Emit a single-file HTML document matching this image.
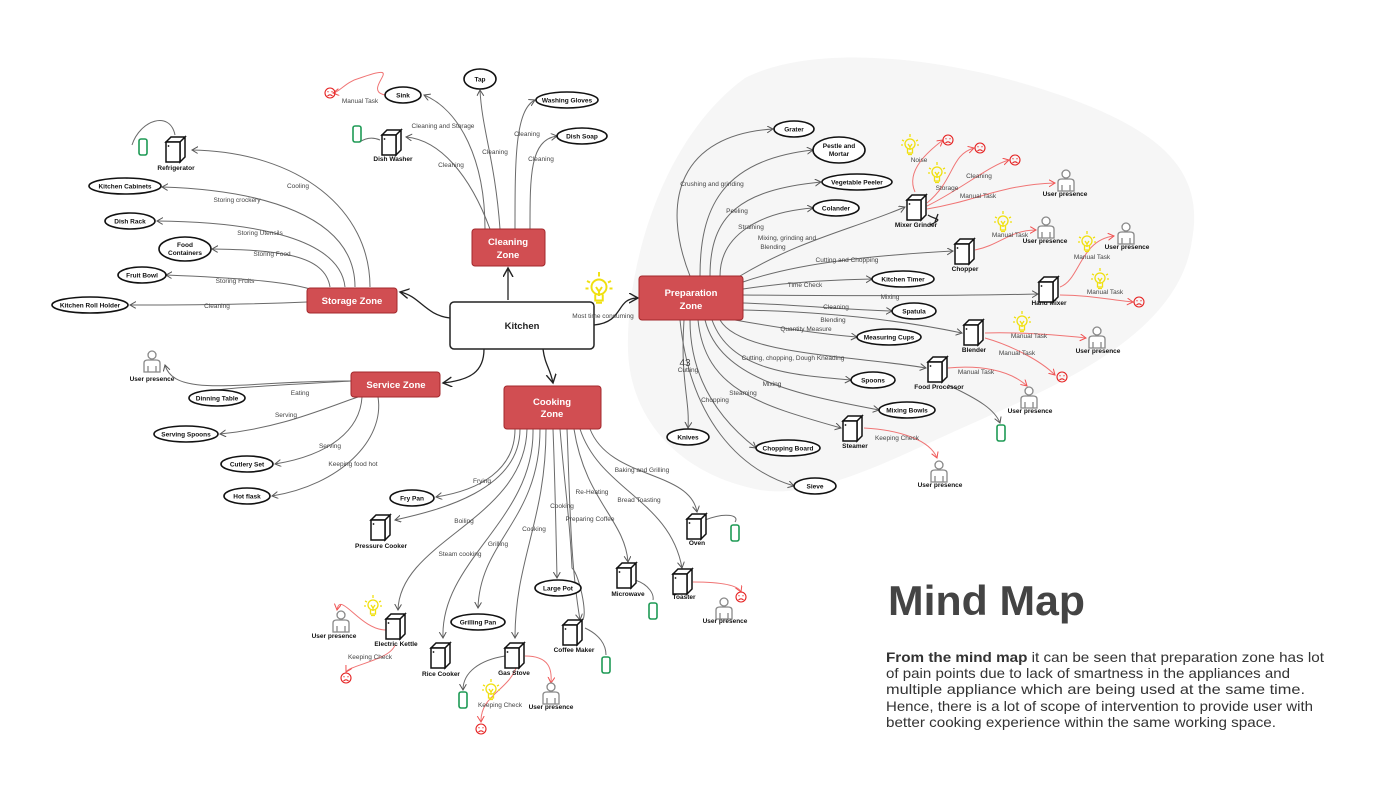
<!DOCTYPE html>
<html><head><meta charset="utf-8"><style>
html,body{margin:0;padding:0;background:#fff;width:1400px;height:788px;overflow:hidden}
svg{display:block}
text{font-family:"Liberation Sans",Arial,sans-serif}
.l{font-size:6.5px;fill:#444}
.n{font-size:6.5px;font-weight:bold;fill:#111}
.z{font-size:9.5px;font-weight:bold;fill:#fff}
.c path{fill:none;stroke:#6a6a6a;stroke-width:1}
.r path{fill:none;stroke:#f07575;stroke-width:1}
.e{fill:#fff;stroke:#111;stroke-width:1.6}
</style></head><body>
<svg width="1400" height="788" viewBox="0 0 1400 788" xmlns="http://www.w3.org/2000/svg">
<defs>
<marker id="a" markerWidth="8" markerHeight="8" refX="6" refY="3.5" orient="auto" markerUnits="userSpaceOnUse"><path d="M0,0 L6,3.5 L0,7" fill="none" stroke="#555" stroke-width="1"/></marker>
<marker id="ar" markerWidth="8" markerHeight="8" refX="6" refY="3.5" orient="auto" markerUnits="userSpaceOnUse"><path d="M0,0 L6,3.5 L0,7" fill="none" stroke="#f05050" stroke-width="1"/></marker>
<marker id="ab" markerWidth="12" markerHeight="12" refX="9" refY="5" orient="auto" markerUnits="userSpaceOnUse"><path d="M0,0 L9,5 L0,10" fill="none" stroke="#222" stroke-width="1.4"/></marker>
<g id="app"><path d="M-10,-8 L-5,-13 L9,-13 L4,-8 Z M4,-8 L9,-13 L9,7 L4,12 Z" fill="#fff" stroke="#111" stroke-width="1.5"/><rect x="-10" y="-8" width="14" height="20" fill="#fff" stroke="#111" stroke-width="1.5"/><circle cx="-7.5" cy="-4" r="0.9" fill="#111"/></g>
<g id="per" fill="#fff" stroke="#888" stroke-width="1.3"><circle cx="0" cy="-8" r="4"/><path d="M-8,9 V0 Q-8,-3 -4,-3 H4 Q8,-3 8,0 V9 Z M-4,9 V3 M4,9 V3"/></g>
<g id="ph"><rect x="-4" y="-8" width="8" height="16" rx="2" fill="#fff" stroke="#1e9a55" stroke-width="1.6"/></g>
<g id="sad" fill="none" stroke="#e52020" stroke-width="1.1"><circle r="5"/><path d="M-2.5,3 Q0,0.5 2.5,3 M-2.5,-1.5 L-1.5,-1 M2.5,-1.5 L1.5,-1"/></g>
<g id="bulb" fill="none" stroke="#f0e010" stroke-width="1.3"><circle cx="0" cy="-2" r="5"/><path d="M-2.5,3 V7 H2.5 V3 M-2,8.5 H2 M0,-12 V-9 M-8,-6 L-6,-5 M8,-6 L6,-5 M-9,-1 H-7 M9,-1 H7 M-2,-2 L0,1 L2,-2 M0,1 V4"/></g>
</defs>

<path d="M745,78 C820,40 960,60 1060,95 C1160,130 1205,170 1192,240 C1180,330 1070,380 980,420 C900,455 820,500 760,490 C680,475 630,420 628,350 C626,270 660,140 745,78 Z" fill="#f6f6f6"/>

<g fill="none" stroke="#222" stroke-width="1.3">
<path d="M450,318 C425,315 420,296 400,292" marker-end="url(#ab)"/>
<path d="M508,300 C508,285 508,282 508,268" marker-end="url(#ab)"/>
<path d="M594,325 C625,322 615,298 638,298" marker-end="url(#ab)"/>
<path d="M484,349 C484,372 470,380 443,383" marker-end="url(#ab)"/>
<path d="M543,349 C545,365 550,368 553,383" marker-end="url(#ab)"/>
</g>

<g class="c">
<path d="M370,287 C370,210 300,152 192,150" marker-end="url(#a)"/>
<path d="M355,287 C355,215 260,190 162,187" marker-end="url(#a)"/>
<path d="M345,287 C340,240 260,222 157,221" marker-end="url(#a)"/>
<path d="M330,287 C325,255 280,250 212,249" marker-end="url(#a)"/>
<path d="M320,293 C300,282 240,278 166,275" marker-end="url(#a)"/>
<path d="M307,302 C260,304 200,305 130,305" marker-end="url(#a)"/>
<path d="M175,135 C170,110 140,120 132,145"/>
</g>
<g class="c">
<path d="M485,229 C485,160 460,110 424,95" marker-end="url(#a)"/>
<path d="M490,229 C470,175 440,140 406,137" marker-end="url(#a)"/>
<path d="M500,229 C495,160 482,130 480,90" marker-end="url(#a)"/>
<path d="M515,229 C515,160 515,110 535,100" marker-end="url(#a)"/>
<path d="M530,229 C530,175 530,140 557,136" marker-end="url(#a)"/>
<path d="M380,140 C368,135 360,142 360,142"/>
</g>
<g class="r"><path d="M385,95 C360,90 410,60 360,78 C345,82 340,92 333,93" marker-end="url(#ar)"/></g>
<g class="c">
<path d="M351,381 C300,384 250,386 217,390" />
<path d="M351,381 C250,380 175,400 165,365" marker-end="url(#a)"/>
<path d="M358,397 C320,410 280,428 220,434" marker-end="url(#a)"/>
<path d="M362,397 C360,430 330,455 275,464" marker-end="url(#a)"/>
<path d="M378,397 C385,440 340,485 272,496" marker-end="url(#a)"/>
</g>
<g class="c">
<path d="M515,429 C515,470 480,490 436,497" marker-end="url(#a)"/>
<path d="M520,429 C520,490 440,510 395,520" marker-end="url(#a)"/>
<path d="M527,429 C525,520 400,540 398,610" marker-end="url(#a)"/>
<path d="M533,429 C535,520 440,560 443,638" marker-end="url(#a)"/>
<path d="M540,429 C540,520 480,540 478,608" marker-end="url(#a)"/>
<path d="M546,429 C546,520 515,560 515,638" marker-end="url(#a)"/>
<path d="M553,429 C555,480 556,530 557,578" marker-end="url(#a)"/>
<path d="M560,429 C565,490 570,520 572,568 C580,575 590,625 580,620"/>
<path d="M567,429 C570,500 570,560 580,620" marker-end="url(#a)"/>
<path d="M574,429 C585,500 625,520 628,562" marker-end="url(#a)"/>
<path d="M580,429 C600,490 670,500 682,568" marker-end="url(#a)"/>
<path d="M590,429 C610,480 690,470 697,512" marker-end="url(#a)"/>
<path d="M705,520 C725,512 740,515 735,522"/>
<path d="M585,628 C600,635 606,645 606,655"/>
<path d="M635,580 C650,585 654,595 653,600"/>
<path d="M505,656 C480,660 463,672 463,690" marker-end="url(#a)"/>
</g>
<g class="r">
<path d="M386,630 C360,630 340,590 337,610" marker-end="url(#ar)"/>
<path d="M395,645 C390,660 350,665 346,672" marker-end="url(#ar)"/>
<path d="M525,656 C550,656 552,670 551,683" marker-end="url(#ar)"/>
<path d="M517,665 C510,690 480,695 481,722" marker-end="url(#ar)"/>
<path d="M693,582 C720,582 738,585 741,592" marker-end="url(#ar)"/>
</g>
<g class="c">
<path d="M690,276 C660,200 680,135 773,129" marker-end="url(#a)"/>
<path d="M700,276 C700,210 720,160 813,150" marker-end="url(#a)"/>
<path d="M710,276 C710,215 740,190 821,182" marker-end="url(#a)"/>
<path d="M720,276 C720,235 760,212 813,208" marker-end="url(#a)"/>
<path d="M740,276 C800,240 850,230 905,207" marker-end="url(#a)"/>
<path d="M743,282 C800,262 880,255 953,251" marker-end="url(#a)"/>
<path d="M743,289 C790,282 830,280 872,279" marker-end="url(#a)"/>
<path d="M743,295 C850,296 950,296 1038,294" marker-end="url(#a)"/>
<path d="M743,303 C800,305 850,310 892,311" marker-end="url(#a)"/>
<path d="M743,310 C830,312 900,320 962,333" marker-end="url(#a)"/>
<path d="M735,320 C780,328 820,334 857,337" marker-end="url(#a)"/>
<path d="M720,320 C740,355 850,355 926,368" marker-end="url(#a)"/>
<path d="M712,320 C730,370 790,375 851,380" marker-end="url(#a)"/>
<path d="M705,320 C720,380 800,395 879,410" marker-end="url(#a)"/>
<path d="M698,320 C705,390 760,405 841,428" marker-end="url(#a)"/>
<path d="M690,320 C690,380 720,420 756,448" marker-end="url(#a)"/>
<path d="M684,320 C680,380 690,400 688,428" marker-end="url(#a)"/>
<path d="M680,320 C690,420 740,470 794,486" marker-end="url(#a)"/>
<path d="M948,385 C980,400 995,410 1000,423" marker-end="url(#a)"/>
</g>
<path d="M928,215 C935,220 945,218 930,225 M935,222 L938,214" fill="none" stroke="#222" stroke-width="1.3"/>
<g class="r">
<path d="M915,192 C905,170 930,150 943,140" marker-end="url(#ar)"/>
<path d="M927,203 C955,180 950,155 974,148" marker-end="url(#ar)"/>
<path d="M927,206 C960,190 990,165 1009,160" marker-end="url(#ar)"/>
<path d="M927,209 C980,200 1000,185 1055,183" marker-end="url(#ar)"/>
<path d="M975,250 C1000,245 1010,230 1036,230" marker-end="url(#ar)"/>
<path d="M1060,287 C1080,280 1080,240 1114,236" marker-end="url(#ar)"/>
<path d="M1060,295 C1090,295 1110,300 1133,302" marker-end="url(#ar)"/>
<path d="M985,333 C1020,332 1060,335 1086,338" marker-end="url(#ar)"/>
<path d="M985,338 C1010,345 1040,360 1055,375" marker-end="url(#ar)"/>
<path d="M948,368 C980,365 1010,370 1027,386" marker-end="url(#ar)"/>
<path d="M864,428 C900,430 930,440 937,458" marker-end="url(#ar)"/>
</g>

<g fill="#d14e52" stroke="#a3282c" stroke-width="1">
<rect x="472" y="229" width="73" height="37" rx="3"/>
<rect x="307" y="288" width="90" height="25" rx="3"/>
<rect x="351" y="372" width="89" height="25" rx="3"/>
<rect x="504" y="386" width="97" height="43" rx="3"/>
<rect x="639" y="276" width="104" height="44" rx="3"/>
</g>
<rect x="450" y="302" width="144" height="47" rx="4" fill="#fff" stroke="#222" stroke-width="1.5"/>
<g text-anchor="middle">
<text x="522" y="329" style="font-size:9.5px;font-weight:bold;fill:#222">Kitchen</text>
<text class="z" x="508" y="245">Cleaning</text><text class="z" x="508" y="258">Zone</text>
<text class="z" x="352" y="304">Storage Zone</text>
<text class="z" x="396" y="388">Service Zone</text>
<text class="z" x="552" y="405">Cooking</text><text class="z" x="552" y="417">Zone</text>
<text class="z" x="691" y="296">Preparation</text><text class="z" x="691" y="309">Zone</text>
</g>

<g class="e">
<ellipse cx="125" cy="186" rx="36" ry="8"/><ellipse cx="130" cy="221" rx="25" ry="8"/>
<ellipse cx="185" cy="249" rx="26" ry="12"/><ellipse cx="142" cy="275" rx="24" ry="8"/>
<ellipse cx="90" cy="305" rx="38" ry="8"/>
<ellipse cx="403" cy="95" rx="18" ry="8"/><ellipse cx="480" cy="79" rx="16" ry="10"/>
<ellipse cx="567" cy="100" rx="31" ry="8"/><ellipse cx="582" cy="136" rx="25" ry="8"/>
<ellipse cx="794" cy="129" rx="20" ry="8"/><ellipse cx="839" cy="150" rx="26" ry="13"/>
<ellipse cx="857" cy="182" rx="35" ry="8"/><ellipse cx="836" cy="208" rx="23" ry="8"/>
<ellipse cx="903" cy="279" rx="31" ry="8"/><ellipse cx="914" cy="311" rx="22" ry="8"/>
<ellipse cx="889" cy="337" rx="32" ry="8"/><ellipse cx="873" cy="380" rx="22" ry="8"/>
<ellipse cx="907" cy="410" rx="28" ry="8"/><ellipse cx="688" cy="437" rx="21" ry="8"/>
<ellipse cx="788" cy="448" rx="32" ry="8"/><ellipse cx="815" cy="486" rx="21" ry="8"/>
<ellipse cx="217" cy="398" rx="28" ry="8"/><ellipse cx="186" cy="434" rx="32" ry="8"/>
<ellipse cx="247" cy="464" rx="26" ry="8"/><ellipse cx="247" cy="496" rx="23" ry="8"/>
<ellipse cx="412" cy="498" rx="22" ry="8"/><ellipse cx="478" cy="622" rx="27" ry="8"/>
<ellipse cx="558" cy="588" rx="23" ry="8"/>
</g>
<g text-anchor="middle" class="n">
<text class="n" x="125" y="188.5">Kitchen Cabinets</text><text class="n" x="130" y="223.5">Dish Rack</text>
<text class="n" x="185" y="247">Food</text><text class="n" x="185" y="255">Containers</text>
<text class="n" x="142" y="277.5">Fruit Bowl</text><text class="n" x="90" y="307.5">Kitchen Roll Holder</text>
<text class="n" x="403" y="97.5">Sink</text><text class="n" x="480" y="81.5">Tap</text>
<text class="n" x="567" y="102.5">Washing Gloves</text><text class="n" x="582" y="138.5">Dish Soap</text>
<text class="n" x="794" y="131.5">Grater</text><text class="n" x="839" y="148">Pestle and</text><text class="n" x="839" y="156">Mortar</text>
<text class="n" x="857" y="184.5">Vegetable Peeler</text><text class="n" x="836" y="210.5">Colander</text>
<text class="n" x="903" y="281.5">Kitchen Timer</text><text class="n" x="914" y="313.5">Spatula</text>
<text class="n" x="889" y="339.5">Measuring Cups</text><text class="n" x="873" y="382.5">Spoons</text>
<text class="n" x="907" y="412.5">Mixing Bowls</text><text class="n" x="688" y="439.5">Knives</text>
<text class="n" x="788" y="450.5">Chopping Board</text><text class="n" x="815" y="488.5">Sieve</text>
<text class="n" x="217" y="400.5">Dinning Table</text><text class="n" x="186" y="436.5">Serving Spoons</text>
<text class="n" x="247" y="466.5">Cutlery Set</text><text class="n" x="247" y="498.5">Hot flask</text>
<text class="n" x="412" y="500.5">Fry Pan</text><text class="n" x="478" y="624.5">Grilling Pan</text>
<text class="n" x="558" y="590.5">Large Pot</text>
<text class="n" x="176" y="170">Refrigerator</text><text class="n" x="393" y="161">Dish Washer</text>
<text class="n" x="916" y="227">Mixer Grinder</text><text class="n" x="965" y="271">Chopper</text>
<text class="n" x="1049" y="305">Hand Mixer</text><text class="n" x="974" y="352">Blender</text>
<text class="n" x="939" y="389">Food Processor</text><text class="n" x="855" y="448">Steamer</text>
<text class="n" x="381" y="548">Pressure Cooker</text><text class="n" x="396" y="646">Electric Kettle</text>
<text class="n" x="441" y="676">Rice Cooker</text><text class="n" x="514" y="675">Gas Stove</text>
<text class="n" x="574" y="652">Coffee Maker</text><text class="n" x="628" y="596">Microwave</text>
<text class="n" x="684" y="599">Toaster</text><text class="n" x="697" y="545">Oven</text>
<text class="n" x="1065" y="196">User presence</text><text class="n" x="1045" y="243">User presence</text>
<text class="n" x="1127" y="249">User presence</text><text class="n" x="1098" y="353">User presence</text>
<text class="n" x="1030" y="413">User presence</text><text class="n" x="940" y="487">User presence</text>
<text class="n" x="152" y="381">User presence</text><text class="n" x="334" y="638">User presence</text>
<text class="n" x="551" y="709">User presence</text><text class="n" x="725" y="623">User presence</text>
</g>

<use href="#app" x="176" y="150"/><use href="#app" x="392" y="143"/>
<use href="#app" x="917" y="208"/><use href="#app" x="965" y="252"/><use href="#app" x="1049" y="290"/>
<use href="#app" x="974" y="333"/><use href="#app" x="938" y="370"/><use href="#app" x="853" y="429"/>
<use href="#app" x="381" y="528"/><use href="#app" x="396" y="627"/><use href="#app" x="441" y="656"/>
<use href="#app" x="515" y="656"/><use href="#app" x="573" y="633"/><use href="#app" x="627" y="576"/>
<use href="#app" x="683" y="582"/><use href="#app" x="697" y="527"/>
<use href="#ph" x="143" y="147"/><use href="#ph" x="357" y="134"/><use href="#ph" x="1001" y="433"/>
<use href="#ph" x="606" y="665"/><use href="#ph" x="653" y="611"/><use href="#ph" x="735" y="533"/><use href="#ph" x="463" y="700"/>
<use href="#per" x="1066" y="182"/><use href="#per" x="1046" y="229"/><use href="#per" x="1126" y="235"/>
<use href="#per" x="1097" y="339"/><use href="#per" x="1029" y="399"/><use href="#per" x="939" y="473"/>
<use href="#per" x="152" y="363"/><use href="#per" x="341" y="623"/><use href="#per" x="551" y="695"/><use href="#per" x="724" y="610"/>
<use href="#sad" x="330" y="93"/><use href="#sad" x="948" y="140"/><use href="#sad" x="980" y="148"/>
<use href="#sad" x="1015" y="160"/><use href="#sad" x="1139" y="302"/><use href="#sad" x="1062" y="377"/>
<use href="#sad" x="346" y="678"/><use href="#sad" x="481" y="729"/><use href="#sad" x="741" y="597"/>
<use href="#bulb" x="910" y="146"/><use href="#bulb" x="937" y="174"/><use href="#bulb" x="1003" y="223"/>
<use href="#bulb" x="1087" y="243"/><use href="#bulb" x="1100" y="280"/><use href="#bulb" x="1022" y="323"/>
<use href="#bulb" x="373" y="607"/><use href="#bulb" x="491" y="691"/>
<g transform="translate(599,290) scale(1.5)"><use href="#bulb"/></g>

<g text-anchor="middle" class="l">
<text class="l" x="298" y="188">Cooling</text><text class="l" x="237" y="202">Storing crockery</text>
<text class="l" x="260" y="235">Storing Utensils</text><text class="l" x="272" y="256">Storing Food</text>
<text class="l" x="235" y="283">Storing Fruits</text><text class="l" x="217" y="308">Cleaning</text>
<text class="l" x="443" y="128">Cleaning and Storage</text><text class="l" x="451" y="167">Cleaning</text>
<text class="l" x="495" y="154">Cleaning</text><text class="l" x="527" y="136">Cleaning</text><text class="l" x="541" y="161">Cleaning</text>
<text class="l" x="360" y="103">Manual Task</text>
<text class="l" x="603" y="318">Most time consuming</text>
<text class="l" x="712" y="186">Crushing and grinding</text><text class="l" x="737" y="213">Peeling</text>
<text class="l" x="751" y="229">Straining</text><text class="l" x="787" y="240">Mixing, grinding and</text><text class="l" x="773" y="249">Blending</text>
<text class="l" x="847" y="262">Cutting and Chopping</text><text class="l" x="805" y="287">Time Check</text>
<text class="l" x="890" y="299">Mixing</text><text class="l" x="836" y="309">Cleaning</text><text class="l" x="833" y="322">Blending</text>
<text class="l" x="806" y="331">Quantity Measure</text><text class="l" x="793" y="360">Cutting, chopping, Dough Kneading</text>
<text class="l" x="772" y="386">Mixing</text><text class="l" x="743" y="395">Steaming</text><text class="l" x="715" y="402">Chopping</text>
<text class="l" x="688" y="372">Cutting</text><text x="685" y="366" style="font-size:10px;fill:#444">43</text>
<text class="l" x="919" y="162">Noise</text><text class="l" x="947" y="190">Storage</text><text class="l" x="979" y="178">Cleaning</text>
<text class="l" x="978" y="198">Manual Task</text><text class="l" x="1010" y="237">Manual Task</text>
<text class="l" x="1092" y="259">Manual Task</text><text class="l" x="1105" y="294">Manual Task</text>
<text class="l" x="1029" y="338">Manual Task</text><text class="l" x="1017" y="355">Manual Task</text>
<text class="l" x="976" y="374">Manual Task</text><text class="l" x="897" y="440">Keeping Check</text>
<text class="l" x="300" y="395">Eating</text><text class="l" x="286" y="417">Serving</text>
<text class="l" x="330" y="448">Serving</text><text class="l" x="353" y="466">Keeping food hot</text>
<text class="l" x="482" y="483">Frying</text><text class="l" x="464" y="523">Boiling</text>
<text class="l" x="460" y="556">Steam cooking</text><text class="l" x="498" y="546">Grilling</text>
<text class="l" x="534" y="531">Cooking</text><text class="l" x="562" y="508">Cooking</text>
<text class="l" x="592" y="494">Re-Heating</text><text class="l" x="590" y="521">Preparing Coffee</text>
<text class="l" x="639" y="502">Bread Toasting</text><text class="l" x="642" y="472">Baking and Grilling</text>
<text class="l" x="370" y="659">Keeping Check</text><text class="l" x="500" y="707">Keeping Check</text>
</g>

<text x="888" y="615" textLength="197" lengthAdjust="spacingAndGlyphs" style="font-size:42px;font-weight:bold;fill:#444">Mind Map</text>
<g style="font-size:14px;fill:#333">
<text x="886" y="662" textLength="438" lengthAdjust="spacingAndGlyphs"><tspan font-weight="bold">From the mind map</tspan> it can be seen that preparation zone has lot</text>
<text x="886" y="678" textLength="404" lengthAdjust="spacingAndGlyphs">of pain points due to lack of smartness in the appliances and</text>
<text x="886" y="694" textLength="419" lengthAdjust="spacingAndGlyphs">multiple appliance which are being used at the same time.</text>
<text x="886" y="711" textLength="427" lengthAdjust="spacingAndGlyphs">Hence, there is a lot of scope of intervention to provide user with</text>
<text x="886" y="727" textLength="390" lengthAdjust="spacingAndGlyphs">better cooking experience within the same working space.</text>
</g>
</svg>
</body></html>
